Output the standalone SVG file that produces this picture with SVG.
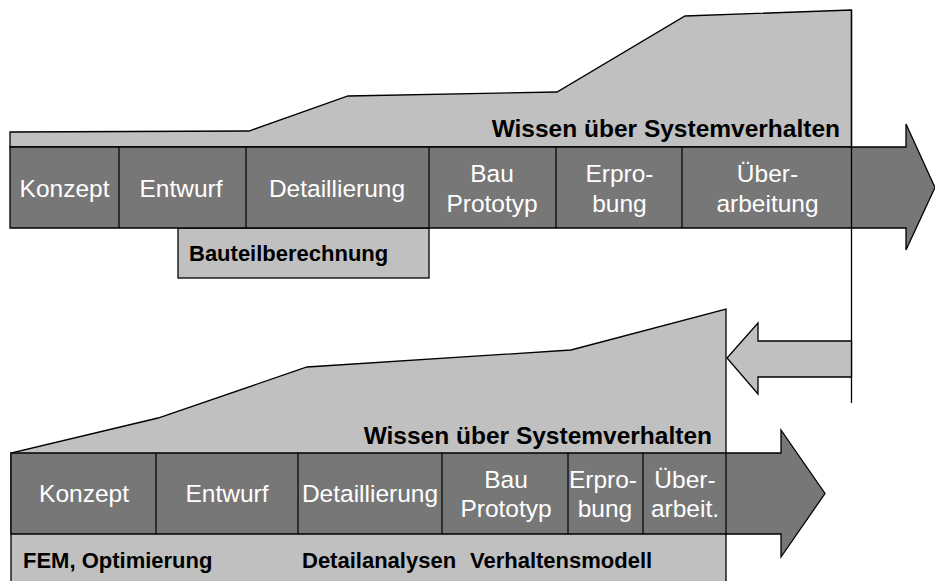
<svg xmlns="http://www.w3.org/2000/svg" width="935" height="581" viewBox="0 0 935 581">
  <style>
    .knowledge { fill: #c0c0c0; stroke: #000; stroke-width: 1.3; stroke-linejoin: miter; }
    .band { fill: #777777; stroke: #000; stroke-width: 1.3; }
    .div { stroke: #000; stroke-width: 1.2; fill: none; }
    .phase { font-family: "Liberation Sans", Arial, sans-serif; font-size: 24.5px; fill: #ffffff; text-anchor: middle; }
    .label { font-family: "Liberation Sans", Arial, sans-serif; font-size: 24.5px; font-weight: bold; fill: #000; }
    .tool { font-family: "Liberation Sans", Arial, sans-serif; font-size: 22px; font-weight: bold; fill: #000; }
  </style>
  <rect width="935" height="581" fill="#ffffff"/>

  <!-- Upper process: conventional development -->
  <g id="upper-knowledge">
    <polygon class="knowledge" points="10,147 10,132 249,131 348,96 557,92 685,16 851.5,10 851.5,147"/>
    <text class="label" x="840" y="137" text-anchor="end">Wissen über Systemverhalten</text>
  </g>
  <g id="upper-calc">
    <rect class="knowledge" x="178" y="228" width="251" height="50"/>
    <text class="tool" x="189" y="261">Bauteilberechnung</text>
  </g>
  <g id="upper-phases">
    <polygon class="band" points="10,147 906,147 906,124 935,187.5 906,250 906,228 10,228"/>
    <path class="div" d="M119,147V228M246,147V228M429,147V228M556,147V228M682,147V228"/>
    <text class="phase" x="64.5" y="197">Konzept</text>
    <text class="phase" x="181" y="197">Entwurf</text>
    <text class="phase" x="337" y="197">Detaillierung</text>
    <text class="phase" x="492" y="182">Bau</text>
    <text class="phase" x="492" y="212">Prototyp</text>
    <text class="phase" x="619.5" y="182">Erpro-</text>
    <text class="phase" x="619.5" y="212">bung</text>
    <text class="phase" x="767.5" y="182">Über-</text>
    <text class="phase" x="767.5" y="212">arbeitung</text>
  </g>

  <!-- Lower process: simulation-driven development -->
  <g id="lower-knowledge">
    <polygon class="knowledge" points="11,582 11,453 158,418 307,367 571,350 726,309 726,582"/>
    <text class="label" x="712" y="444" text-anchor="end">Wissen über Systemverhalten</text>
    <text class="tool" x="23" y="568">FEM, Optimierung</text>
    <text class="tool" x="302" y="568">Detailanalysen</text>
    <text class="tool" x="470" y="568">Verhaltensmodell</text>
  </g>
  <g id="lower-phases">
    <polygon class="band" points="11,453 781,453 781,430 825,493.5 781,557 781,534 11,534"/>
    <path class="div" d="M156,453V534M298,453V534M442,453V534M568,453V534M643,453V534M726,453V534"/>
    <text class="phase" x="84" y="502">Konzept</text>
    <text class="phase" x="227" y="502">Entwurf</text>
    <text class="phase" x="370" y="502">Detaillierung</text>
    <text class="phase" x="506" y="488">Bau</text>
    <text class="phase" x="506" y="517">Prototyp</text>
    <text class="phase" x="603" y="488">Erpro-</text>
    <text class="phase" x="605" y="517">bung</text>
    <text class="phase" x="685" y="488">Über-</text>
    <text class="phase" x="685" y="517">arbeit.</text>
  </g>

  <!-- Feedback: knowledge carried back from the end of the upper process -->
  <g id="connectors">
    <line x1="851.5" y1="10" x2="851.5" y2="403" stroke="#000" stroke-width="1.3"/>
    <polygon class="knowledge" points="851.5,341 758,341 758,323 727,358 758,394 758,377 851.5,377"/>
  </g>
</svg>
